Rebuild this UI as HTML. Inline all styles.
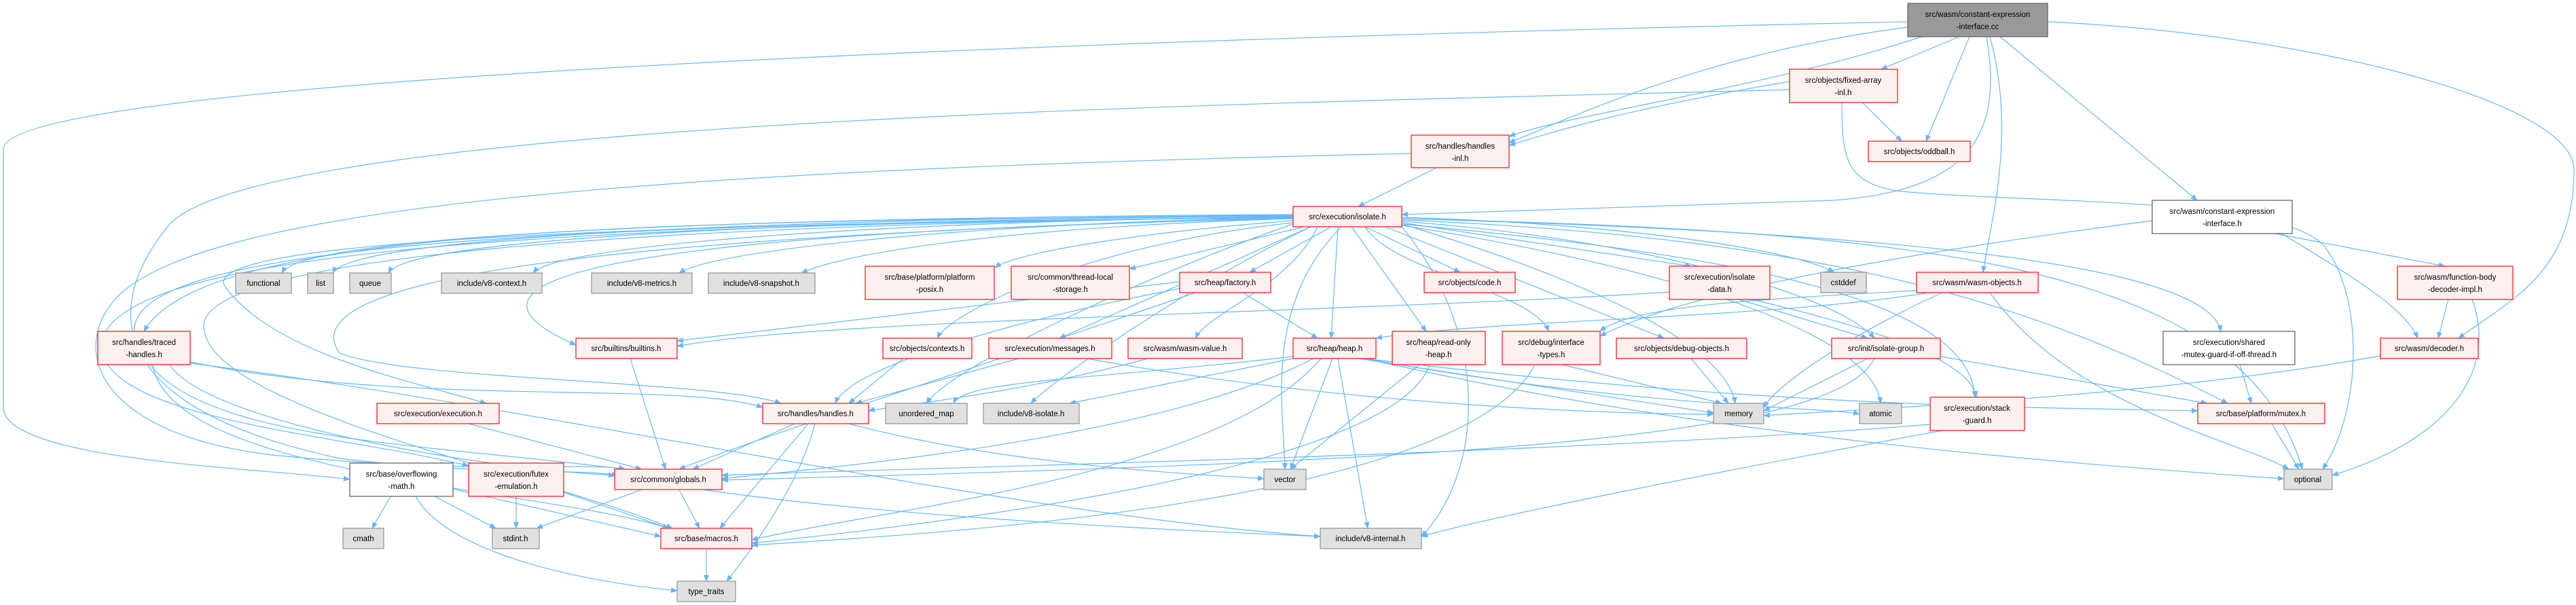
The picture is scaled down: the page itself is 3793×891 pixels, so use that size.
<!DOCTYPE html>
<html><head><meta charset="utf-8"><style>
html,body{margin:0;padding:0;background:#fff;width:3793px;height:891px;overflow:hidden}
svg text{font-family:"Liberation Sans",sans-serif;font-size:11.5px;fill:#000;text-anchor:middle}
.e{fill:none;stroke:#63b8ff;stroke-width:1.2;marker-end:url(#a)}
.r{fill:#fff0f0;stroke:#ff2020;stroke-width:1.3}
.g{fill:#e0e0e0;stroke:#999;stroke-width:1.3}
.w{fill:#fff;stroke:#666;stroke-width:1.3}
.k{fill:#999;stroke:#666;stroke-width:1.3}
</style></head><body>
<svg width="3793" height="891" viewBox="0 0 3793 891" xmlns="http://www.w3.org/2000/svg">
<defs><marker id="a" markerWidth="10" markerHeight="8" refX="9" refY="4" orient="auto" markerUnits="userSpaceOnUse"><path d="M0,0 L10,4 L0,8 z" fill="#63b8ff"/></marker></defs>
<g>
<path class="e" d="M2885,54 L2770,102"/>
<path class="e" d="M2900,54 L2836,208"/>
<path class="e" d="M2830,54 C2600,130 2300,170 2222,201"/>
<path class="e" d="M2809,40 C2500,80 2300,180 2222,210"/>
<path class="e" d="M2925,54 C2950,200 2900,280 2700,295 C2400,305 2150,312 2064,316"/>
<path class="e" d="M2930,54 C2970,200 2930,330 2920,401"/>
<path class="e" d="M2945,54 L3235,295"/>
<path class="e" d="M3015,32 C3400,50 3790,150 3790,250 C3790,400 3700,440 3620,498"/>
<path class="e" d="M2809,32 C1500,60 0,120 5,220 L5,600 C5,680 400,690 515,706"/>
<path class="e" d="M2742,151 L2800,208"/>
<path class="e" d="M2635,120 C2400,160 2300,190 2222,214"/>
<path class="e" d="M2712,151 C2712,240 2720,270 2800,282 C3000,300 3350,290 3420,360 C3480,430 3480,600 3420,691"/>
<path class="e" d="M2635,132 C2000,150 400,170 250,330 C150,450 150,600 500,675 C700,700 850,690 910,700"/>
<path class="e" d="M2078,226 C1000,250 300,300 170,440 C100,520 150,640 400,670 C700,700 880,680 920,691"/>
<path class="e" d="M2115,247 L2000,304"/>
<path class="e" d="M1904,316 C1200,320 450,340 415,402"/>
<path class="e" d="M1904,317 C1200,322 520,345 490,402"/>
<path class="e" d="M1904,318 C1200,324 600,350 572,402"/>
<path class="e" d="M1904,319 C1300,326 820,360 785,402"/>
<path class="e" d="M1904,320 C1400,330 1050,370 1000,402"/>
<path class="e" d="M1904,322 C1500,334 1250,370 1180,402"/>
<path class="e" d="M1904,325 C1700,340 1500,370 1465,394"/>
<path class="e" d="M1920,334 L1663,396"/>
<path class="e" d="M1960,334 L1840,401"/>
<path class="e" d="M1904,318 C1000,325 300,330 212,488"/>
<path class="e" d="M1904,322 C1000,340 600,400 848,508"/>
<path class="e" d="M1904,320 C1000,330 300,350 330,420 C400,520 600,560 716,594"/>
<path class="e" d="M1904,321 C1200,340 400,380 500,520 C600,560 1050,560 1150,594"/>
<path class="e" d="M1904,320 C900,330 150,350 200,500 C250,650 600,650 920,691"/>
<path class="e" d="M1904,320 C900,330 120,360 150,520 C180,620 500,640 690,686"/>
<path class="e" d="M1904,320 C900,330 300,380 300,480 C300,600 800,700 990,778"/>
<path class="e" d="M1904,330 C1700,400 1400,540 1364,594"/>
<path class="e" d="M1930,334 C1750,420 1550,560 1518,594"/>
<path class="e" d="M1904,328 C1600,360 1400,460 1380,498"/>
<path class="e" d="M1930,334 L1560,498"/>
<path class="e" d="M1940,334 C1900,420 1780,460 1760,498"/>
<path class="e" d="M1970,334 L1960,498"/>
<path class="e" d="M1990,334 L2100,488"/>
<path class="e" d="M2010,334 C2050,400 2260,430 2280,488"/>
<path class="e" d="M2010,334 L2150,401"/>
<path class="e" d="M2040,334 L2450,498"/>
<path class="e" d="M2064,328 L2490,392"/>
<path class="e" d="M2064,320 C2400,330 2650,370 2700,401"/>
<path class="e" d="M2064,326 C2400,350 2700,430 2760,498"/>
<path class="e" d="M2064,322 C2700,340 3250,380 3270,488"/>
<path class="e" d="M2064,330 C2500,370 2900,430 2908,585"/>
<path class="e" d="M2064,324 C2700,350 3000,450 3280,594"/>
<path class="e" d="M2064,322 C2800,340 3300,380 3390,691"/>
<path class="e" d="M2064,330 C2300,400 2540,500 2555,594"/>
<path class="e" d="M2064,332 C2500,400 2760,500 2769,594"/>
<path class="e" d="M1975,334 C1860,450 1890,600 1892,691"/>
<path class="e" d="M2064,334 C2200,500 2180,700 2093,790"/>
<path class="e" d="M3350,344 L3600,392"/>
<path class="e" d="M3360,344 C3450,400 3540,450 3560,498"/>
<path class="e" d="M3169,325 C2900,360 2500,420 2356,495"/>
<path class="e" d="M3605,441 L3590,498"/>
<path class="e" d="M3640,441 C3680,550 3600,650 3434,700"/>
<path class="e" d="M2860,431 C2750,480 2620,560 2597,600"/>
<path class="e" d="M2840,431 C2600,470 2200,470 2026,498"/>
<path class="e" d="M2930,431 C3050,600 3300,650 3370,691"/>
<path class="e" d="M2822,428 C2600,440 2400,450 2356,488"/>
<path class="e" d="M2560,441 L2750,498"/>
<path class="e" d="M2580,441 C2700,470 2900,520 2910,585"/>
<path class="e" d="M2458,430 C2000,460 1200,470 997,510"/>
<path class="e" d="M1737,415 L997,502"/>
<path class="e" d="M1737,425 C1500,470 1250,540 1230,594"/>
<path class="e" d="M1830,431 L1940,498"/>
<path class="e" d="M1760,431 C1500,520 1100,650 1000,691"/>
<path class="e" d="M280,533 C600,600 1000,560 1123,600"/>
<path class="e" d="M250,537 C300,620 700,690 905,700"/>
<path class="e" d="M225,537 C250,700 800,720 985,778"/>
<path class="e" d="M280,535 C800,600 1500,760 1944,790"/>
<path class="e" d="M928,528 L980,691"/>
<path class="e" d="M1330,528 L1250,594"/>
<path class="e" d="M1500,528 L1260,594"/>
<path class="e" d="M1600,528 C2000,600 2400,610 2523,610"/>
<path class="e" d="M1690,528 C1500,580 1300,600 1279,605"/>
<path class="e" d="M1904,525 C1600,560 1420,560 1404,594"/>
<path class="e" d="M1904,528 L1575,594"/>
<path class="e" d="M1962,528 L1900,691"/>
<path class="e" d="M1970,528 L2014,778"/>
<path class="e" d="M2000,528 L2523,608"/>
<path class="e" d="M2010,528 C2400,600 2700,600 2738,610"/>
<path class="e" d="M2010,528 C2600,600 3000,600 3236,605"/>
<path class="e" d="M2010,528 C2500,640 3000,680 3363,705"/>
<path class="e" d="M1934,528 C1700,650 1200,690 1063,705"/>
<path class="e" d="M1945,528 C1800,700 1300,750 1107,795"/>
<path class="e" d="M2090,537 L1900,691"/>
<path class="e" d="M2105,537 C2050,700 1300,780 1107,800"/>
<path class="e" d="M2300,537 L2535,594"/>
<path class="e" d="M2260,537 C2150,750 1300,790 1107,803"/>
<path class="e" d="M2490,528 L2545,594"/>
<path class="e" d="M2750,528 L2597,605"/>
<path class="e" d="M2857,525 L3250,594"/>
<path class="e" d="M2760,528 C2700,650 2100,680 1063,707"/>
<path class="e" d="M3298,537 L3315,594"/>
<path class="e" d="M3505,524 C3200,580 2800,600 2597,612"/>
<path class="e" d="M690,624 L945,691"/>
<path class="e" d="M1170,624 L1020,691"/>
<path class="e" d="M1190,624 L1060,778"/>
<path class="e" d="M1200,624 C1180,700 1130,780 1070,856"/>
<path class="e" d="M1250,624 C1500,690 1800,700 1861,705"/>
<path class="e" d="M2842,625 C2300,670 1300,690 1063,700"/>
<path class="e" d="M2860,634 C2500,700 2200,760 2093,790"/>
<path class="e" d="M3345,624 L3385,691"/>
<path class="e" d="M575,731 L548,778"/>
<path class="e" d="M640,731 L730,778"/>
<path class="e" d="M667,720 L973,790"/>
<path class="e" d="M612,731 C650,800 800,850 997,870"/>
<path class="e" d="M760,731 L760,778"/>
<path class="e" d="M830,725 L985,778"/>
<path class="e" d="M945,721 L790,778"/>
<path class="e" d="M1000,721 L1030,778"/>
<path class="e" d="M1035,721 C1300,760 1700,780 1944,790"/>
<path class="e" d="M1040,808 L1040,856"/>
</g>
<g>
<rect class="k" x="2809" y="5" width="206" height="49"/><text x="2912" y="25">src/wasm/constant-expression</text><text x="2912" y="43">-interface.cc</text>
<rect class="r" x="2635" y="102" width="159" height="49"/><text x="2714" y="122">src/objects/fixed-array</text><text x="2714" y="140">-inl.h</text>
<rect class="r" x="2751" y="208" width="150" height="30"/><text x="2826" y="227">src/objects/oddball.h</text>
<rect class="r" x="2078" y="199" width="144" height="48"/><text x="2150" y="219">src/handles/handles</text><text x="2150" y="237">-inl.h</text>
<rect class="r" x="1904" y="304" width="160" height="30"/><text x="1984" y="323">src/execution/isolate.h</text>
<rect class="w" x="3169" y="295" width="206" height="49"/><text x="3272" y="315">src/wasm/constant-expression</text><text x="3272" y="333">-interface.h</text>
<rect class="g" x="347" y="402" width="82" height="30"/><text x="388" y="421">functional</text>
<rect class="g" x="453" y="402" width="38" height="30"/><text x="472" y="421">list</text>
<rect class="g" x="515" y="402" width="61" height="30"/><text x="545" y="421">queue</text>
<rect class="g" x="650" y="402" width="148" height="30"/><text x="724" y="421">include/v8-context.h</text>
<rect class="g" x="871" y="402" width="148" height="30"/><text x="945" y="421">include/v8-metrics.h</text>
<rect class="g" x="1043" y="402" width="157" height="30"/><text x="1121" y="421">include/v8-snapshot.h</text>
<rect class="r" x="1274" y="392" width="190" height="49"/><text x="1369" y="412">src/base/platform/platform</text><text x="1369" y="430">-posix.h</text>
<rect class="r" x="1489" y="392" width="174" height="49"/><text x="1576" y="412">src/common/thread-local</text><text x="1576" y="430">-storage.h</text>
<rect class="r" x="1737" y="401" width="134" height="30"/><text x="1804" y="420">src/heap/factory.h</text>
<rect class="r" x="2097" y="401" width="134" height="30"/><text x="2164" y="420">src/objects/code.h</text>
<rect class="r" x="2458" y="392" width="148" height="49"/><text x="2532" y="412">src/execution/isolate</text><text x="2532" y="430">-data.h</text>
<rect class="g" x="2681" y="401" width="67" height="30"/><text x="2714" y="420">cstddef</text>
<rect class="r" x="2822" y="401" width="179" height="30"/><text x="2911" y="420">src/wasm/wasm-objects.h</text>
<rect class="r" x="3530" y="392" width="170" height="49"/><text x="3615" y="412">src/wasm/function-body</text><text x="3615" y="430">-decoder-impl.h</text>
<rect class="r" x="144" y="488" width="136" height="49"/><text x="212" y="508">src/handles/traced</text><text x="212" y="526">-handles.h</text>
<rect class="r" x="848" y="498" width="149" height="30"/><text x="922" y="517">src/builtins/builtins.h</text>
<rect class="r" x="1300" y="498" width="131" height="30"/><text x="1365" y="517">src/objects/contexts.h</text>
<rect class="r" x="1456" y="498" width="181" height="30"/><text x="1546" y="517">src/execution/messages.h</text>
<rect class="r" x="1661" y="498" width="168" height="30"/><text x="1745" y="517">src/wasm/wasm-value.h</text>
<rect class="r" x="1904" y="498" width="122" height="30"/><text x="1965" y="517">src/heap/heap.h</text>
<rect class="r" x="2050" y="488" width="137" height="49"/><text x="2118" y="508">src/heap/read-only</text><text x="2118" y="526">-heap.h</text>
<rect class="r" x="2212" y="488" width="144" height="49"/><text x="2284" y="508">src/debug/interface</text><text x="2284" y="526">-types.h</text>
<rect class="r" x="2380" y="498" width="192" height="30"/><text x="2476" y="517">src/objects/debug-objects.h</text>
<rect class="r" x="2697" y="498" width="160" height="30"/><text x="2777" y="517">src/init/isolate-group.h</text>
<rect class="w" x="3185" y="488" width="194" height="49"/><text x="3282" y="508">src/execution/shared</text><text x="3282" y="526">-mutex-guard-if-off-thread.h</text>
<rect class="r" x="3505" y="498" width="144" height="30"/><text x="3577" y="517">src/wasm/decoder.h</text>
<rect class="r" x="555" y="594" width="180" height="30"/><text x="645" y="613">src/execution/execution.h</text>
<rect class="r" x="1123" y="594" width="156" height="30"/><text x="1201" y="613">src/handles/handles.h</text>
<rect class="g" x="1304" y="594" width="120" height="30"/><text x="1364" y="613">unordered_map</text>
<rect class="g" x="1448" y="594" width="141" height="30"/><text x="1518" y="613">include/v8-isolate.h</text>
<rect class="g" x="2523" y="594" width="74" height="30"/><text x="2560" y="613">memory</text>
<rect class="g" x="2738" y="594" width="62" height="30"/><text x="2769" y="613">atomic</text>
<rect class="r" x="2842" y="585" width="139" height="49"/><text x="2911" y="605">src/execution/stack</text><text x="2911" y="623">-guard.h</text>
<rect class="r" x="3236" y="594" width="187" height="30"/><text x="3329" y="613">src/base/platform/mutex.h</text>
<rect class="w" x="515" y="682" width="152" height="49"/><text x="591" y="702">src/base/overflowing</text><text x="591" y="720">-math.h</text>
<rect class="r" x="690" y="682" width="140" height="49"/><text x="760" y="702">src/execution/futex</text><text x="760" y="720">-emulation.h</text>
<rect class="r" x="905" y="691" width="158" height="30"/><text x="984" y="710">src/common/globals.h</text>
<rect class="g" x="1861" y="691" width="62" height="30"/><text x="1892" y="710">vector</text>
<rect class="g" x="3363" y="691" width="71" height="30"/><text x="3398" y="710">optional</text>
<rect class="g" x="505" y="778" width="60" height="30"/><text x="535" y="797">cmath</text>
<rect class="g" x="725" y="778" width="69" height="30"/><text x="759" y="797">stdint.h</text>
<rect class="r" x="973" y="778" width="134" height="30"/><text x="1040" y="797">src/base/macros.h</text>
<rect class="g" x="1944" y="778" width="149" height="30"/><text x="2018" y="797">include/v8-internal.h</text>
<rect class="g" x="997" y="856" width="86" height="30"/><text x="1040" y="875">type_traits</text>
</g>
</svg>
</body></html>
